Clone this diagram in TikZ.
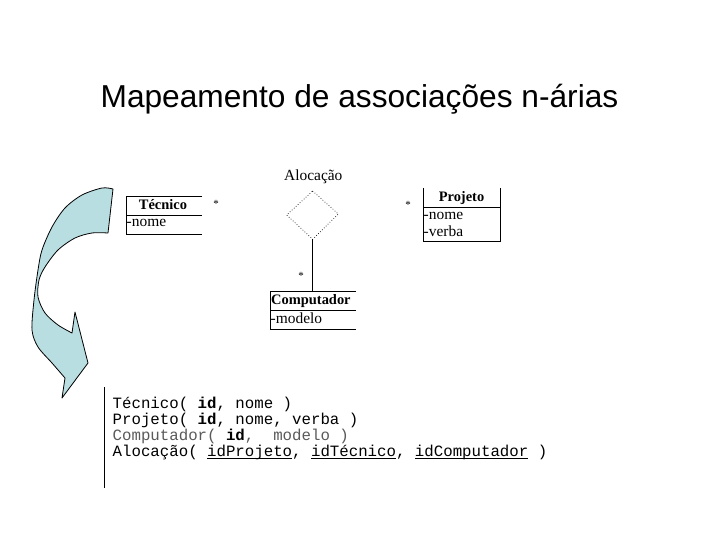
\documentclass[tikz,border=0pt]{standalone}
\usepackage{fontspec}
\setmainfont{Liberation Serif}
\newfontfamily\titlefont{Liberation Sans}
\newfontfamily\codefont{Liberation Mono}
\definecolor{arrowfill}{RGB}{185,222,226}
\definecolor{codegray}{RGB}{90,90,90}
\newcommand\myul[1]{\setbox0\hbox{#1}\rlap{\rule[-2.6bp]{\wd0}{0.8bp}}\box0\relax}
\tikzset{
  lbl/.style={inner sep=0pt, anchor=base west, font=\fontsize{15.5}{18}\selectfont},
  hdr/.style={inner sep=0pt, anchor=base, font=\fontsize{14.5}{18}\selectfont\bfseries},
  codeline/.style={inner sep=0pt, anchor=base west, font=\codefont\fontsize{15.8}{16}\selectfont},
  boxline/.style={line width=0.8bp},
  mult/.style={inner sep=0pt, font=\fontsize{11}{11}\selectfont},
}
\begin{document}
\begin{tikzpicture}[x=1bp,y=-1bp]
\useasboundingbox (0,0) rectangle (720,540);
\fill[white] (0,0) rectangle (720,540);

% title
\node[inner sep=0pt, anchor=base, font=\titlefont\fontsize{31.8}{36}\selectfont] (title) at (359.5,108) {Mapeamento de associações n-árias};

% curved arrow
\filldraw[fill=arrowfill, draw=black, line width=0.8bp, line join=round]
  plot[smooth] coordinates {(113,189) (102,188) (82,195) (65,208) (52,227) (42,250) (38,270) (34,300) (32,330) (38,347) (52,363) (65,378)}
  -- (62,398) -- (88,363) -- (75,312) -- (72,333)
  -- plot[smooth] coordinates {(72,333) (58,325) (45,313) (38,297) (39,280) (45,267) (58,250) (75,238) (92,233) (108,233)}
  -- cycle;

% Tecnico
\draw[boxline] (202,196) -- (126,196) -- (126,234) -- (202,234);
\draw[boxline] (126,215) -- (202,215);
\node[hdr] (tec) at (163,209.3) {Técnico};
\node[lbl] (tecnome) at (126.5,226.7) {-nome};
\node[mult] (startec) at (216,204) {*};

% Projeto
\draw[boxline] (423,188) -- (423,241.7) -- (500,241.7) -- (500,188);
\draw[boxline] (423,207.7) -- (500,207.7);
\node[hdr] (proj) at (461.5,201.7) {Projeto};
\node[lbl] (projnome) at (423.5,219.5) {-nome};
\node[lbl] (projverba) at (423.5,237) {-verba};
\node[mult] (starproj) at (408,205) {*};

% Alocacao diamond
\node[inner sep=0pt, anchor=base, font=\fontsize{15.5}{18}\selectfont] (aloc) at (313.3,180.7) {Alocação};
\coordinate (dtop) at (312.7,191);
\coordinate (dright) at (338.3,214);
\coordinate (dbot) at (312.7,239.3);
\coordinate (dleft) at (286.7,215);
\draw[dotted, line width=0.7bp] (dtop) -- (dright) -- (dbot) -- (dleft) -- cycle;

% Computador
\coordinate (comptop) at (312.7,291.7);
\draw[boxline] (356,291.7) -- (270,291.7) -- (270,329.3) -- (356,329.3);
\draw[boxline] (270,310.7) -- (356,310.7);
\node[inner sep=0pt, anchor=base west, font=\fontsize{14.5}{18}\selectfont\bfseries] (comp) at (271,304.5) {Computador};
\node[lbl] (compmod) at (270.5,323.5) {-modelo};
\node[mult] (starcomp) at (301,276) {*};
\draw[boxline] (dbot) -- (comptop);

% relational schema
\draw[line width=0.9bp] (104.3,387) -- (104.3,488);
\node[codeline] (l1) at (112.5,408) {Técnico( \textbf{id}, nome )};
\node[codeline] (l2) at (112.5,424) {Projeto( \textbf{id}, nome, verba )};
\node[codeline, text=codegray] (l3) at (112.5,440) {Computador( \textbf{\color{black}id},~ modelo )};
\node[codeline] (l4) at (112.5,456) {Alocação( \myul{idProjeto}, \myul{idTécnico}, \myul{idComputador} )};
\end{tikzpicture}
\end{document}
